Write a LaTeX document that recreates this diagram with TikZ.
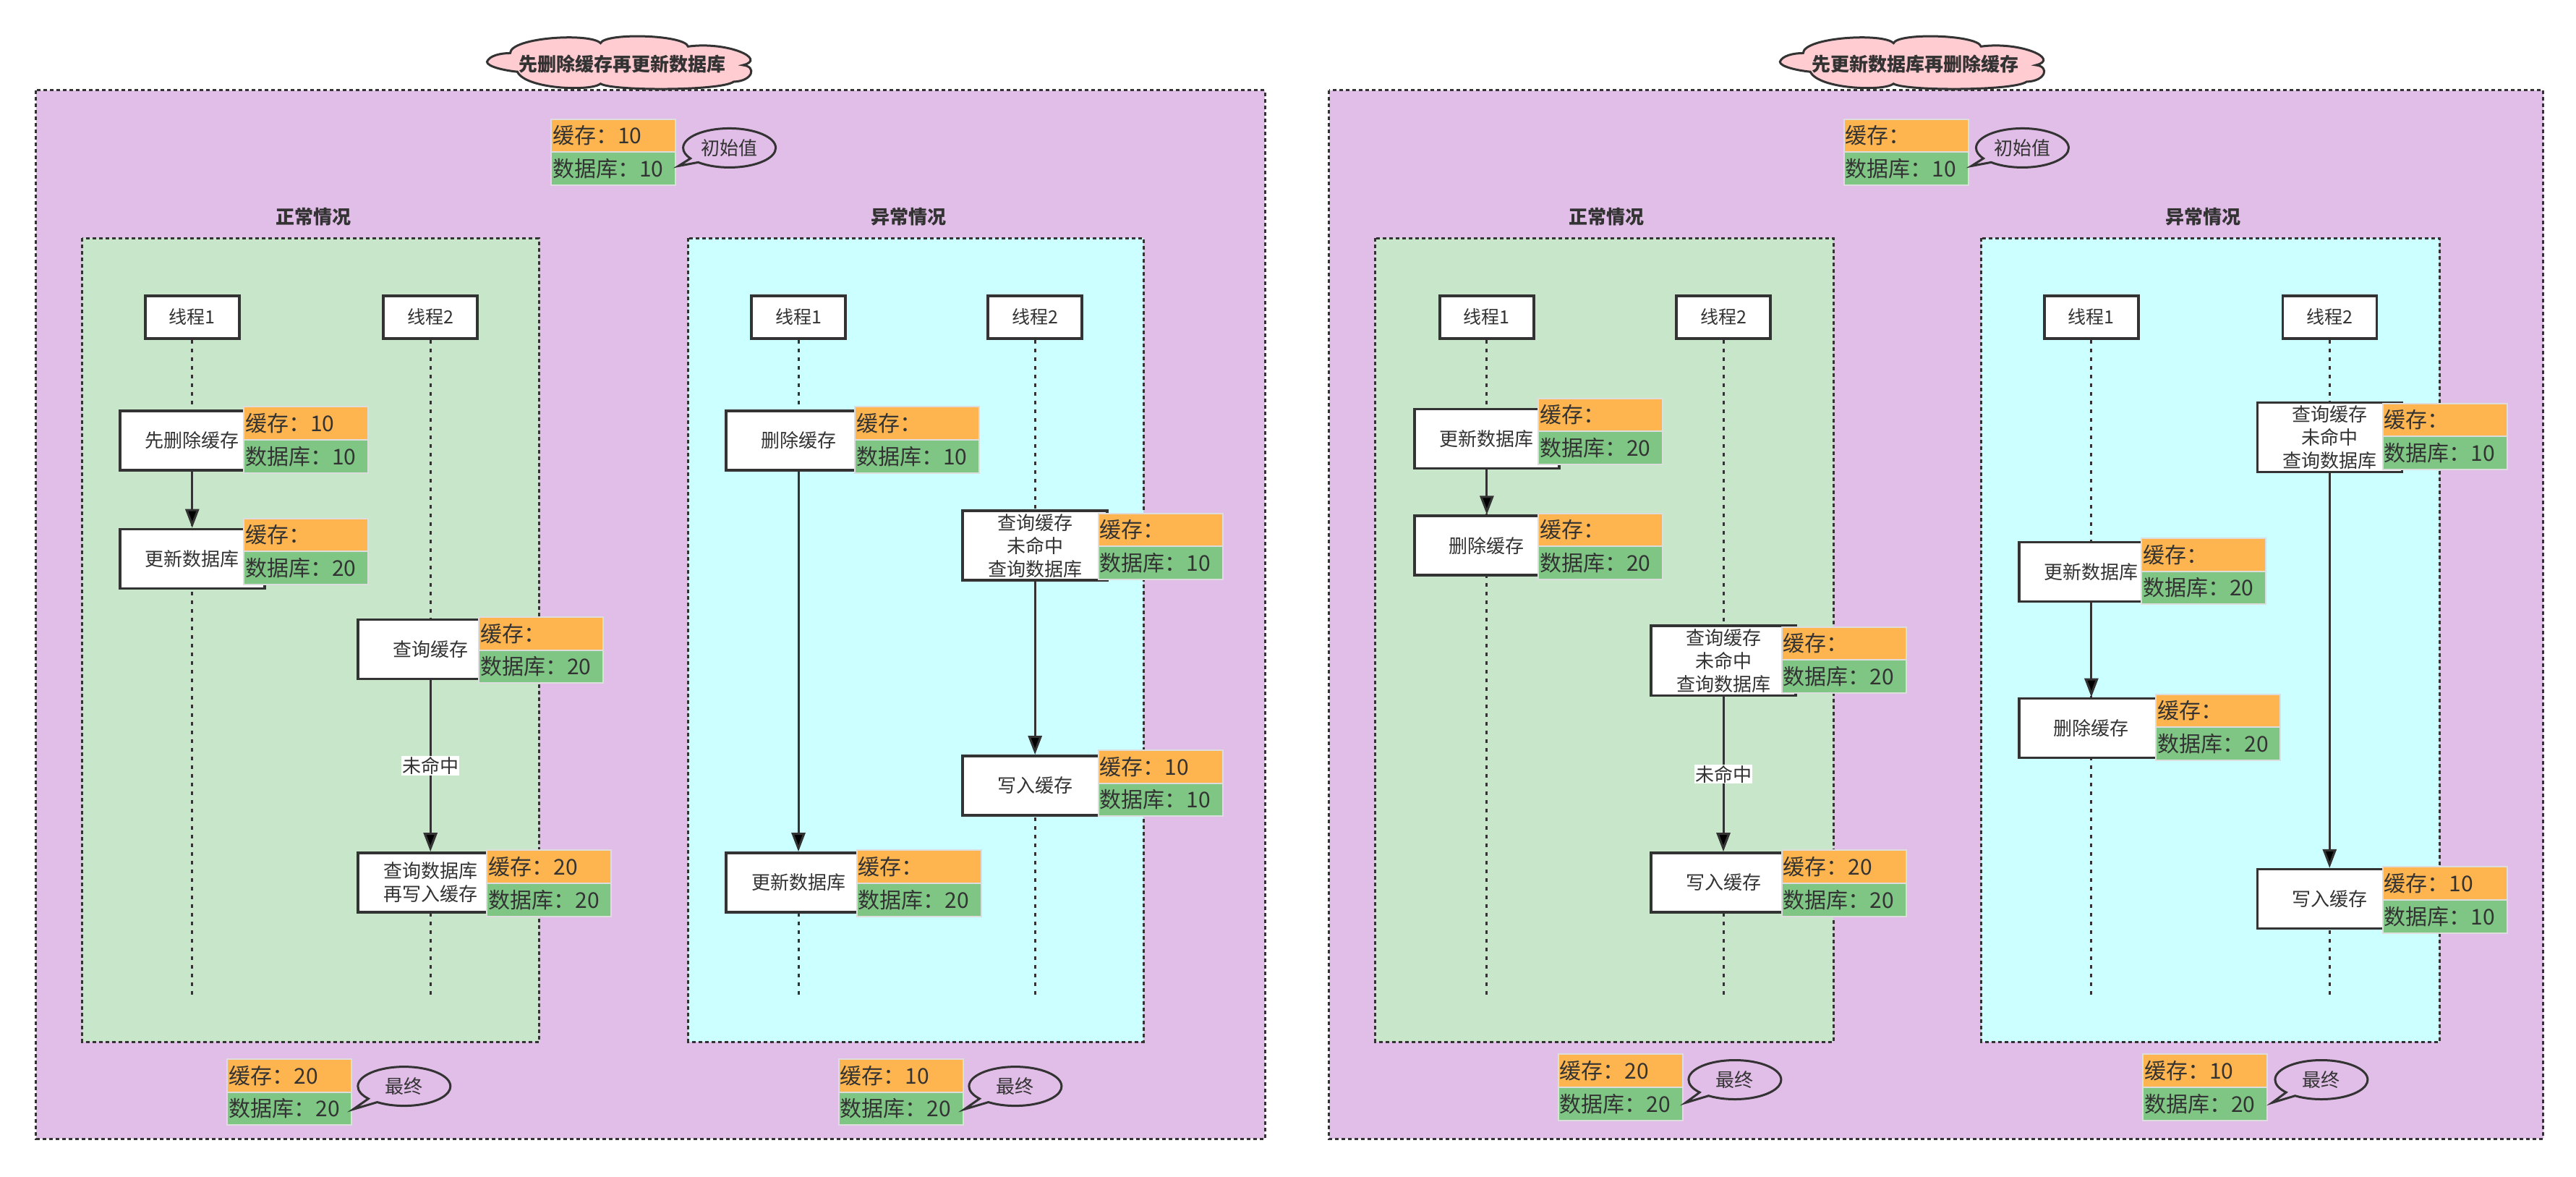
\documentclass[tikz,border=0pt]{standalone}
\usepackage{fontspec}
\setmainfont{Noto Sans CJK SC}
\usetikzlibrary{shapes.callouts, shapes.multipart, arrows.meta}

\definecolor{ink}{HTML}{333333}
\definecolor{bgpurple}{HTML}{E1BEE7}
\definecolor{okgreen}{HTML}{C8E6C9}
\definecolor{badcyan}{HTML}{CCFFFF}
\definecolor{cloudpink}{HTML}{FFCCD2}
\definecolor{cacheorange}{HTML}{FFB54F}
\definecolor{dbgreen}{HTML}{7FC685}
\definecolor{cellline}{HTML}{DDDDDD}

\tikzset{
  frame/.style={draw=ink, line width=3pt, dash pattern=on 5pt off 4pt},
  thread/.style={draw=ink, line width=3.5pt, fill=white, minimum width=130pt, minimum height=59pt, font=\fontsize{25}{30}\selectfont},
  action/.style={draw=ink, line width=3.5pt, fill=white, minimum width=200pt, minimum height=82pt, inner sep=4pt, align=center},
  life/.style={draw=ink, line width=3pt, dash pattern=on 5pt off 7pt},
  flow/.style={draw=ink, line width=3pt, -{Triangle[length=26pt,width=19pt]}},
  state/.style={rectangle split, rectangle split parts=2, rectangle split part fill={cacheorange,dbgreen},
    rectangle split part align=left, draw=cellline, line width=2pt, minimum width=172pt,
    inner xsep=2pt, inner ysep=8pt, anchor=north west, font=\fontsize{30}{36}\selectfont},
  note/.style={ellipse callout, draw=ink, line width=3pt, fill=bgpurple, minimum width=128pt, minimum height=54pt, inner sep=0pt},
  titletext/.style={font=\fontsize{26}{30}\selectfont\bfseries},
  case/.style={font=\fontsize{26}{30}\selectfont\bfseries},
  miss/.style={fill=white, inner sep=1pt},
  cloudshape/.pic={
    \draw[draw=ink, line width=3pt, fill=cloudpink, x=1pt, y=-0.92pt]
      (-183,-1) .. controls (-180,-10) and (-165,-14) .. (-151,-14)
      .. controls (-150,-38) and (-40,-45) .. (-26,-29)
      .. controls (-20,-45) and (90,-42) .. (95,-24)
      .. controls (150,-32) and (205,-5) .. (171,4)
      .. controls (190,6) and (185,28) .. (158,29)
      .. controls (140,43) and (-10,43) .. (-26,32)
      .. controls (-40,44) and (-130,40) .. (-141,14)
      .. controls (-160,12) and (-183,6) .. cycle;
  },
}

\begin{document}
\begin{tikzpicture}[x=2.2717pt, y=-2.2717pt, every node/.style={text=ink, font=\fontsize{26}{32}\selectfont}]
  \useasboundingbox (0,0) rectangle (1568,715.8);
  % Outer boxes
  \draw[frame, fill=bgpurple] (22,55) rectangle (770,693);
  \draw[frame, fill=bgpurple] (809,55) rectangle (1548,693);
  % Titles
  \pic at (377,38) {cloudshape};
  \node[titletext] (Ltitle) at (379,39) {先删除缓存再更新数据库};
  \pic at (1164,38) {cloudshape};
  \node[titletext] (Rtitle) at (1166,39) {先更新数据库再删除缓存};
  % Initial values
  \node[state] (Linit) at (335,72) {缓存：10\nodepart{two}数据库：10};
  \node[note, callout absolute pointer={(413,101)}] (Linitnote) at (444,90) {初始值};
  \node[state] (Rinit) at (1122,72) {缓存：\nodepart{two}数据库：10};
  \node[note, callout absolute pointer={(1200,101)}] (Rinitnote) at (1231,90) {初始值};
  % Panels
  \node[case] (Lncase) at (191,132) {正常情况};
  \node[case] (Lecase) at (553,132) {异常情况};
  \node[case] (Rncase) at (978,132) {正常情况};
  \node[case] (Recase) at (1341,132) {异常情况};
  \draw[frame, fill=okgreen] (50,145) rectangle (328,634);
  \draw[frame, fill=badcyan] (419,145) rectangle (696,634);
  \draw[frame, fill=okgreen] (837,145) rectangle (1116,634);
  \draw[frame, fill=badcyan] (1206,145) rectangle (1485,634);
  % Threads and lifelines
  \foreach \nm/\x/\num in {Ln1/117/1, Ln2/262/2, Le1/486/1, Le2/630/2, Rn1/905/1, Rn2/1049/2, Re1/1273/1, Re2/1418/2} {
    \node[thread] (\nm) at (\x,193) {线程\num};
    \coordinate (\nm end) at (\x,607);
    \draw[life] (\nm) -- (\nm end);
  }
  % Left diagram, normal case
  \node[action] (Lna) at (117,268) {先删除缓存};
  \node[action] (Lnb) at (117,340) {更新数据库};
  \node[action] (Lnc) at (262,395) {查询缓存};
  \node[action] (Lnd) at (262,537) {查询数据库\\再写入缓存};
  \draw[flow] (Lna) -- (Lnb);
  \draw[flow] (Lnc) -- node[miss] (Lnmiss) {未命中} (Lnd);
  \node[state] (Lnas) at (148,247) {缓存：10\nodepart{two}数据库：10};
  \node[state] (Lnbs) at (148,315) {缓存：\nodepart{two}数据库：20};
  \node[state] (Lncs) at (291,375) {缓存：\nodepart{two}数据库：20};
  \node[state] (Lnds) at (296,517) {缓存：20\nodepart{two}数据库：20};
  % Left diagram, abnormal case
  \node[action] (Lea) at (486,268) {删除缓存};
  \node[action] (Leb) at (630,332) {查询缓存\\未命中\\查询数据库};
  \node[action] (Lec) at (630,478) {写入缓存};
  \node[action] (Led) at (486,537) {更新数据库};
  \draw[flow] (Lea) -- (Led);
  \draw[flow] (Leb) -- (Lec);
  \node[state] (Leas) at (520,247) {缓存：\nodepart{two}数据库：10};
  \node[state] (Lebs) at (668,312) {缓存：\nodepart{two}数据库：10};
  \node[state] (Lecs) at (668,456) {缓存：10\nodepart{two}数据库：10};
  \node[state] (Leds) at (521,517) {缓存：\nodepart{two}数据库：20};
  % Right diagram, normal case
  \node[action] (Rna) at (905,267) {更新数据库};
  \node[action] (Rnb) at (905,332) {删除缓存};
  \node[action] (Rnc) at (1049,402) {查询缓存\\未命中\\查询数据库};
  \node[action] (Rnd) at (1049,537) {写入缓存};
  \draw[flow] (Rna) -- (Rnb);
  \draw[flow] (Rnc) -- node[miss] (Rnmiss) {未命中} (Rnd);
  \node[state] (Rnas) at (936,242) {缓存：\nodepart{two}数据库：20};
  \node[state] (Rnbs) at (936,312) {缓存：\nodepart{two}数据库：20};
  \node[state] (Rncs) at (1084,381) {缓存：\nodepart{two}数据库：20};
  \node[state] (Rnds) at (1084,517) {缓存：20\nodepart{two}数据库：20};
  % Right diagram, abnormal case
  \node[action] (Rea) at (1418,266) {查询缓存\\未命中\\查询数据库};
  \node[action] (Reb) at (1273,348) {更新数据库};
  \node[action] (Rec) at (1273,443) {删除缓存};
  \node[action] (Red) at (1418,547) {写入缓存};
  \draw[flow] (Reb) -- (Rec);
  \draw[flow] (Rea) -- (Red);
  \node[state] (Reas) at (1450,245) {缓存：\nodepart{two}数据库：10};
  \node[state] (Rebs) at (1303,327) {缓存：\nodepart{two}数据库：20};
  \node[state] (Recs) at (1312,422) {缓存：\nodepart{two}数据库：20};
  \node[state] (Reds) at (1450,527) {缓存：10\nodepart{two}数据库：10};
  % Final values
  \node[state] (Lnfin) at (138,644) {缓存：20\nodepart{two}数据库：20};
  \node[note, callout absolute pointer={(215,675)}] (Lnfinnote) at (246,661) {最终};
  \node[state] (Lefin) at (510,644) {缓存：10\nodepart{two}数据库：20};
  \node[note, callout absolute pointer={(587,675)}] (Lefinnote) at (618,661) {最终};
  \node[state] (Rnfin) at (948,641) {缓存：20\nodepart{two}数据库：20};
  \node[note, callout absolute pointer={(1026,671)}] (Rnfinnote) at (1056,657) {最终};
  \node[state] (Refin) at (1304,641) {缓存：10\nodepart{two}数据库：20};
  \node[note, callout absolute pointer={(1383,671)}] (Refinnote) at (1413,657) {最终};
\end{tikzpicture}
\end{document}
